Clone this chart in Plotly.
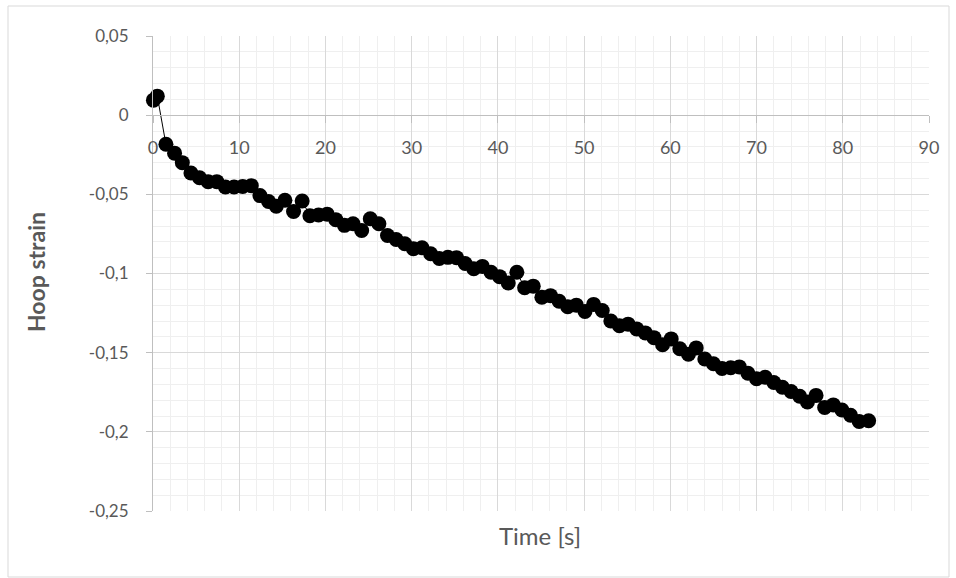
import plotly.graph_objects as go

# ---- data ----
time_s = [0.05, 0.5, 1.5, 2.5, 3.4, 4.4, 5.4, 6.4, 7.4, 8.4, 9.4, 10.4, 11.4, 12.4, 13.4,
          14.3, 15.3, 16.3, 17.3, 18.2, 19.2, 20.2, 21.2, 22.2, 23.2, 24.2, 25.2, 26.2,
          27.2, 28.2, 29.2, 30.2, 31.2, 32.2, 33.2, 34.2, 35.2, 36.2, 37.2, 38.2, 39.2,
          40.2, 41.2, 42.2, 43.1, 44.1, 45.1, 46.1, 47.1, 48.1, 49.1, 50.1, 51.1, 52.1,
          53.1, 54.1, 55.1, 56.1, 57.1, 58.1, 59.1, 60.1, 61.1, 62.1, 63.0, 64.0, 65.0,
          66.0, 67.0, 68.0, 69.0, 70.0, 71.0, 72.0, 73.0, 74.0, 75.0, 75.9, 76.9, 77.9,
          78.9, 79.9, 80.9, 81.9, 83.0]
hoop_strain = [0.0095, 0.012, -0.0184, -0.024, -0.030, -0.0365, -0.0395, -0.042, -0.042,
               -0.0454, -0.0454, -0.045, -0.0445, -0.0508, -0.0545, -0.0575, -0.0537,
               -0.0608, -0.0542, -0.0635, -0.063, -0.0625, -0.066, -0.0696, -0.0686,
               -0.0728, -0.0654, -0.0686, -0.076, -0.0785, -0.0812, -0.0844, -0.0837,
               -0.0875, -0.0905, -0.0898, -0.090, -0.0937, -0.097, -0.0955, -0.0992,
               -0.102, -0.106, -0.0992, -0.109, -0.108, -0.115, -0.114, -0.1175, -0.121,
               -0.120, -0.124, -0.1195, -0.1234, -0.130, -0.133, -0.132, -0.135, -0.1375,
               -0.1405, -0.145, -0.1413, -0.1475, -0.151, -0.147, -0.154, -0.157, -0.160,
               -0.1595, -0.159, -0.163, -0.1665, -0.1655, -0.1688, -0.1718, -0.1745,
               -0.1775, -0.1812, -0.177, -0.1846, -0.183, -0.1862, -0.1895, -0.1935, -0.193]

x_tickvals = [0, 10, 20, 30, 40, 50, 60, 70, 80, 90]
x_ticktext = ["0", "10", "20", "30", "40", "50", "60", "70", "80", "90"]
y_tickvals = [0.05, 0, -0.05, -0.1, -0.15, -0.2, -0.25]
y_ticktext = ["0,05", "0", "-0,05", "-0,1", "-0,15", "-0,2", "-0,25"]
x_title = "Time [s]"
y_title = "Hoop strain"

# ---- layout constants (pixels) ----
W, H = 956, 578
ML, MR, MT, MB = 153, 27, 36, 67
PW, PH = W - ML - MR, H - MT - MB

FONT = "Lato, Calibri, 'Open Sans', sans-serif"
TXT = "#595959"
MAJOR = "#d9d9d9"
MINOR = "#efefef"
AXIS = "#bfbfbf"


def px_x(p):
    return (p - ML) / PW


def px_y(p):
    return (H - MB - p) / PH


fig = go.Figure()
fig.add_trace(go.Scatter(
    x=time_s, y=hoop_strain, mode="lines+markers",
    line=dict(color="black", width=1),
    marker=dict(color="black", size=15),
    cliponaxis=False,
    showlegend=False, hoverinfo="x+y",
))

y_min, y_max = -0.25, 0.05

fig.update_layout(
    width=W, height=H,
    margin=dict(l=ML, r=MR, t=MT, b=MB, pad=0),
    paper_bgcolor="white", plot_bgcolor="white",
    font=dict(family=FONT, size=17, color=TXT),
    xaxis=dict(
        range=[0, 90], anchor="free", position=(0 - y_min) / (y_max - y_min),
        tickmode="array", tickvals=x_tickvals, ticktext=x_ticktext,
        showgrid=True, gridcolor=MAJOR, gridwidth=1,
        minor=dict(dtick=2, tick0=0, showgrid=True, gridcolor=MINOR, gridwidth=1, ticks=""),
        showline=True, linecolor=AXIS, linewidth=1,
        ticks="outside", ticklen=7, tickcolor=AXIS,
        ticklabelstandoff=9,
        zeroline=False, fixedrange=True,
        tickfont=dict(family=FONT, size=18, color=TXT),
    ),
    yaxis=dict(
        range=[y_min, y_max],
        tickmode="array", tickvals=y_tickvals, ticktext=y_ticktext,
        showgrid=True, gridcolor=MAJOR, gridwidth=1,
        minor=dict(dtick=0.01, tick0=0, showgrid=True, gridcolor=MINOR, gridwidth=1, ticks=""),
        showline=True, linecolor=AXIS, linewidth=1,
        ticks="outside", ticklen=6, tickcolor=AXIS,
        ticklabelstandoff=14,
        zeroline=False, fixedrange=True,
        tickfont=dict(family=FONT, size=17, color=TXT),
    ),
    annotations=[
        dict(text=x_title, xref="paper", yref="paper", x=px_x(540), y=px_y(535),
             xanchor="center", yanchor="middle", showarrow=False,
             font=dict(family=FONT, size=24, color=TXT)),
        dict(text="<b>" + y_title + "</b>", xref="paper", yref="paper",
             x=px_x(36), y=px_y(272), textangle=-90,
             xanchor="center", yanchor="middle", showarrow=False,
             font=dict(family=FONT, size=23, color=TXT)),
    ],
    shapes=[
        dict(type="rect", xref="paper", yref="paper",
             x0=px_x(8), x1=px_x(949), y0=px_y(577), y1=px_y(6),
             line=dict(color=MAJOR, width=1), fillcolor="rgba(0,0,0,0)", layer="below"),
    ],
)

fig.write_html("out.html")
